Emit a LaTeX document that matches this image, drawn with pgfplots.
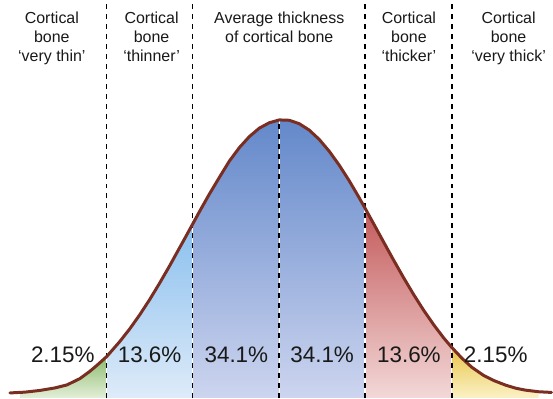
\documentclass[border=0pt]{standalone}
\usepackage{pgfplots}
\pgfplotsset{compat=1.18}
\usepackage{fontspec}
\setmainfont{Liberation Sans}
\definecolor{curvecol}{HTML}{7A2E22}
\definecolor{gtop}{HTML}{8DBB6E}
\definecolor{gbot}{HTML}{E3EFD8}
\definecolor{ltop}{HTML}{8BC0EE}
\definecolor{lbot}{HTML}{DEEBF9}
\definecolor{ctop}{HTML}{6388CA}
\definecolor{cbot}{HTML}{CDD5EF}
\definecolor{rtop}{HTML}{C45A5B}
\definecolor{rbot}{HTML}{F3D8D8}
\definecolor{ytop}{HTML}{E8C64A}
\definecolor{ybot}{HTML}{FBF1C6}
\begin{document}
\begin{tikzpicture}
\begin{axis}[
  scale only axis, width=553pt, height=399pt,
  xmin=0, xmax=553, ymin=0, ymax=399,
  hide axis, clip=false]
% bounding frame (invisible)
\addplot[draw=none] coordinates {(0,0) (553,399)};
% green region
\addplot[draw=none, shading=axis, top color=gtop, bottom color=gbot] coordinates {
(20,5.5) (25,5.8) (40,7.5) (55,10) (67,13) (80,19.3) (90,26.6) (97,32.5) (107,41.5)} \closedcycle;
% light blue region
\addplot[draw=none, shading=axis, top color=ltop, bottom color=lbot] coordinates {
(107,41.5) (120,56.4) (130,69.1) (140,83.2) (150,98.5) (160,115) (170,132.3) (177,145) (185,159.4) (193,174)} \closedcycle;
% central left
\addplot[draw=none, shading=axis, top color=ctop, bottom color=cbot] coordinates {
(193,174) (200,186.8) (210,204.5) (220,221.2) (230,237.5) (240,251) (250,262) (260,270.5) (270,275.9) (280,278.75)} \closedcycle;
% central right
\addplot[draw=none, shading=axis, top color=ctop, bottom color=cbot] coordinates {
(280,278.75) (290,278.4) (300,275) (310,268.6) (320,259.3) (330,247.5) (340,233.6) (350,218) (360,201) (366,190.3)} \closedcycle;
% red region
\addplot[draw=none, shading=axis, top color=rtop, bottom color=rbot] coordinates {
(366,190.3) (375,174) (385,155.7) (395,137.6) (405,120) (415,103.3) (425,87.6) (435,73.2) (445,60) (453,50.6)} \closedcycle;
% yellow region
\addplot[draw=none, shading=axis, top color=ytop, bottom color=ybot] coordinates {
(453,50.6) (463,40) (473,30.8) (485,22.5) (495,17.5) (507,12.8) (517,9.8) (527,7.8) (540,6.2)} \closedcycle;
% white separators
\addplot[white, line width=1.2pt] coordinates {(107,0) (107,41.5)};
\addplot[white, line width=1.2pt] coordinates {(193,0) (193,174)};
\addplot[white, line width=1.2pt] coordinates {(280,0) (280,278.75)};
\addplot[white, line width=1.2pt] coordinates {(366,0) (366,190.3)};
\addplot[white, line width=1.2pt] coordinates {(453,0) (453,50.6)};
% dashed lines
\addplot[black, line width=1.5pt, dash pattern=on 5pt off 5pt] coordinates {(107,0) (107,397)};
\addplot[black, line width=1.5pt, dash pattern=on 5pt off 5pt] coordinates {(193,0) (193,397)};
\addplot[black, line width=1.5pt, dash pattern=on 5pt off 5pt] coordinates {(280,0) (280,279)};
\addplot[black, line width=1.5pt, dash pattern=on 5pt off 5pt] coordinates {(366,0) (366,397)};
\addplot[black, line width=1.5pt, dash pattern=on 5pt off 5pt] coordinates {(453,0) (453,397)};
% curve
\addplot[curvecol, line width=3pt, line join=round, line cap=round] coordinates {
(10,5) (25,5.8) (40,7.5) (55,10) (67,13) (80,19.3) (90,26.6) (97,32.5) (107,41.5)
(120,56.4) (130,69.1) (140,83.2) (150,98.5) (160,115) (170,132.3) (177,145) (185,159.4) (193,174)
(200,186.8) (210,204.5) (220,221.2) (230,237.5) (240,251) (250,262) (260,270.5) (270,275.9) (280,278.75)
(290,278.4) (300,275) (310,268.6) (320,259.3) (330,247.5) (340,233.6) (350,218) (360,201) (366,190.3)
(375,174) (385,155.7) (395,137.6) (405,120) (415,103.3) (425,87.6) (435,73.2) (445,60) (453,50.6)
(463,40) (473,30.8) (485,22.5) (495,17.5) (507,12.8) (517,9.8) (527,7.8) (540,6.2) (553,5.5)};
% top labels
\tikzset{toplab/.style={align=center, anchor=north, inner sep=0pt, font=\fontsize{16}{19}\selectfont, text=black!90}}
\node[toplab] at (axis cs:52,387) {Cortical\\bone\\‘very thin’};
\node[toplab] at (axis cs:152,387) {Cortical\\bone\\‘thinner’};
\node[toplab] at (axis cs:280,387) {Average thickness\\of cortical bone};
\node[toplab] at (axis cs:410,387) {Cortical\\bone\\‘thicker’};
\node[toplab] at (axis cs:510,387) {Cortical\\bone\\‘very thick’};
% percentages
\tikzset{pct/.style={anchor=base, inner sep=0pt, font=\fontsize{22.5}{26}\selectfont, text=black!90}}
\node[pct] at (axis cs:63,36) {2.15\%};
\node[pct] at (axis cs:150,36) {13.6\%};
\node[pct] at (axis cs:237,36) {34.1\%};
\node[pct] at (axis cs:323,36) {34.1\%};
\node[pct] at (axis cs:410,36) {13.6\%};
\node[pct] at (axis cs:497,36) {2.15\%};
\end{axis}
\end{tikzpicture}
\end{document}
